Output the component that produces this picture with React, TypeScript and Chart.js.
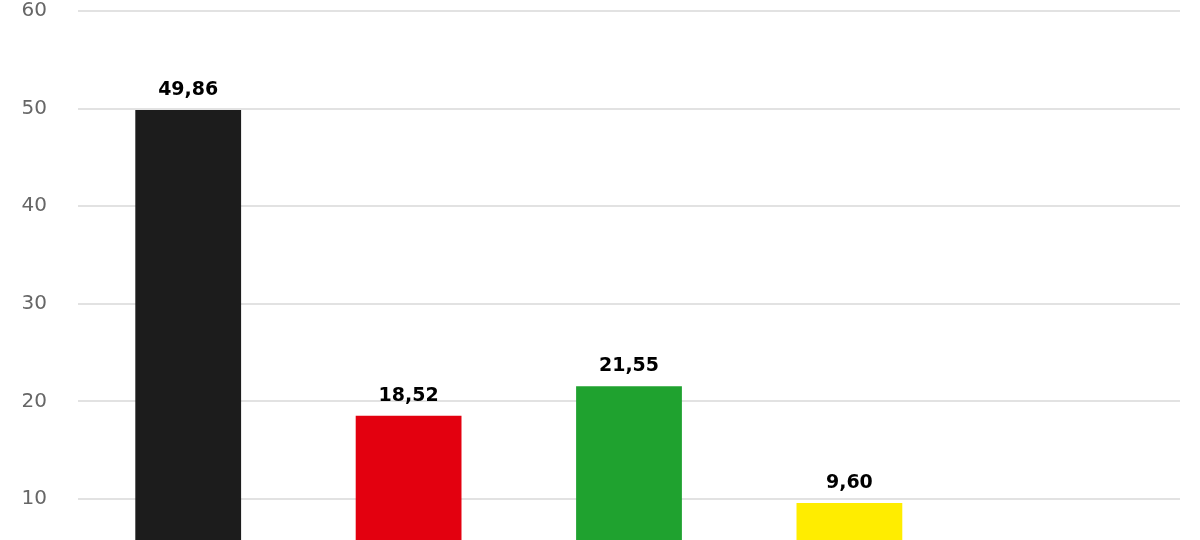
import React, { useEffect, useRef } from "react";
import Chart from "chart.js/auto";

const categories = ["CDU/CSU", "SPD", "Grüne", "FDP", "Sonstige"];
const values: (number | null)[] = [49.86, 18.52, 21.55, 9.6, null];
const barColors = ["#1c1c1c", "#e3000f", "#1fa22f", "#ffed00", "#999999"];
const yTicks = [10, 20, 30, 40, 50, 60];

const fmt = (v: number) => v.toFixed(2).replace(".", ",");

// draws the value above each bar
const valueLabels = {
  id: "valueLabels",
  afterDatasetsDraw(chart: Chart) {
    const ctx = chart.ctx;
    const meta = chart.getDatasetMeta(0);
    ctx.save();
    ctx.font = "bold 19px 'DejaVu Sans'";
    ctx.fillStyle = "#000";
    ctx.textAlign = "center";
    ctx.textBaseline = "alphabetic";
    meta.data.forEach((bar: any, i: number) => {
      const v = values[i];
      if (v == null) return;
      ctx.fillText(fmt(v), bar.x, bar.y - 15);
    });
    ctx.restore();
  },
};

export default function App() {
  const canvasRef = useRef<HTMLCanvasElement | null>(null);

  useEffect(() => {
    document.body.style.margin = "0";
    if (!canvasRef.current) return;
    const chart = new Chart(canvasRef.current, {
      type: "bar",
      data: {
        labels: categories,
        datasets: [
          {
            data: values,
            backgroundColor: barColors,
            barPercentage: 0.96,
            categoryPercentage: 0.5,
          },
        ],
      },
      options: {
        animation: false,
        responsive: false,
        layout: { padding: { top: 11, right: 20, left: 0, bottom: 0 } },
        plugins: {
          legend: { display: false },
          tooltip: { enabled: false },
        },
        scales: {
          x: { display: false },
          y: {
            min: 5.8,
            max: 60,
            border: { display: false },
            grid: { color: "#e2e2e2", lineWidth: 2, drawTicks: false },
            afterBuildTicks: (scale: any) => {
              scale.ticks = yTicks.map((v) => ({ value: v }));
            },
            afterFit: (scale: any) => {
              scale.width = 78;
              scale.paddingTop = 0;
              scale.paddingBottom = 0;
            },
            ticks: {
              padding: 31,
              color: "#666",
              font: { family: "'DejaVu Sans'", size: 20 },
            },
          },
        },
      },
      plugins: [valueLabels],
    });
    return () => chart.destroy();
  }, []);

  return (
    <div style={{ width: 1200, height: 540, background: "#fff" }}>
      <canvas ref={canvasRef} width={1200} height={540} />
    </div>
  );
}
